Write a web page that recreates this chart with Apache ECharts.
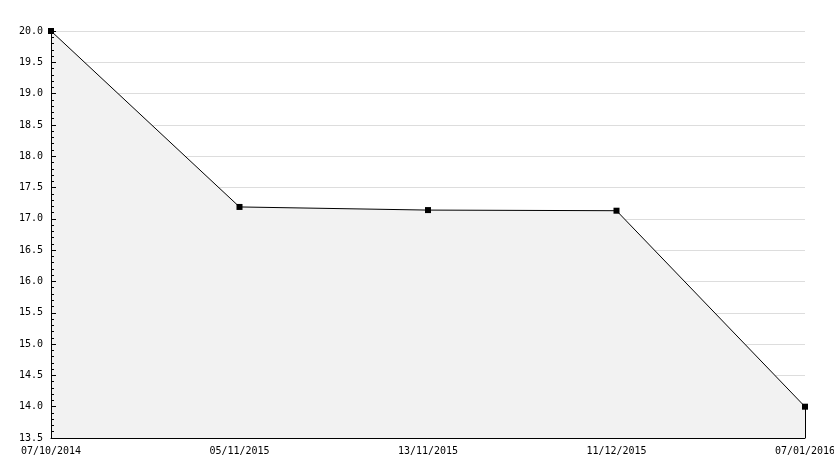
<!DOCTYPE html>
<html><head><meta charset="utf-8">
<script src="https://cdn.jsdelivr.net/npm/echarts@6/dist/echarts.min.js"></script>
<style>html,body{margin:0;padding:0;background:#fff}#c{width:834px;height:468px}</style>
</head><body><div id="c"></div>
<script>
const categories = ['07/10/2014','05/11/2015','13/11/2015','11/12/2015','07/01/2016'];
const values = [20.0, 17.19, 17.14, 17.13, 14.0];
const yMin = 13.5, yMax = 20.0, yStep = 0.5;

const chart = echarts.init(document.getElementById('c'));
const font = {fontFamily:'DejaVu Sans Mono', fontSize:10, color:'#000'};
const lastCat = categories[categories.length-1];
const lastVal = values[values.length-1];
chart.setOption({
  animation:false,
  grid:{left:51, right:29, top:31, bottom:30, outerBoundsMode:'none', containLabel:false},
  xAxis:{type:'category', data:categories, boundaryGap:false, z:5,
    axisLine:{lineStyle:{color:'#000', width:1}},
    axisTick:{show:false},
    axisLabel:Object.assign({margin:8, interval:0, showMinLabel:true, showMaxLabel:true, hideOverlap:false}, font),
    splitLine:{show:false}},
  yAxis:[
    {type:'value', min:yMin, max:yMax, interval:yStep, z:0,
      axisLine:{show:false}, axisTick:{show:false}, axisLabel:{show:false},
      splitLine:{show:true, lineStyle:{color:'#dddddd', width:1}}},
    {type:'value', position:'left', min:yMin, max:yMax, interval:yStep, z:5,
      axisLine:{show:true, lineStyle:{color:'#000', width:1}},
      axisTick:{show:true, inside:true, length:5, lineStyle:{color:'#000'}},
      minorTick:{show:true, splitNumber:5, length:3, lineStyle:{color:'#000'}},
      axisLabel:Object.assign({margin:8, formatter:v=>v.toFixed(1)}, font),
      splitLine:{show:false}}
  ],
  series:[{type:'line', data:values, yAxisIndex:0, symbol:'rect', symbolSize:6, z:2,
    itemStyle:{color:'#000'}, lineStyle:{color:'#000', width:1},
    areaStyle:{color:'#f2f2f2', opacity:1},
    markLine:{silent:true, symbol:'none', label:{show:false},
      lineStyle:{color:'#000', width:1, type:'solid'},
      data:[[{coord:[lastCat, yMin]},{coord:[lastCat, lastVal]}]]}}]
});
</script></body></html>
